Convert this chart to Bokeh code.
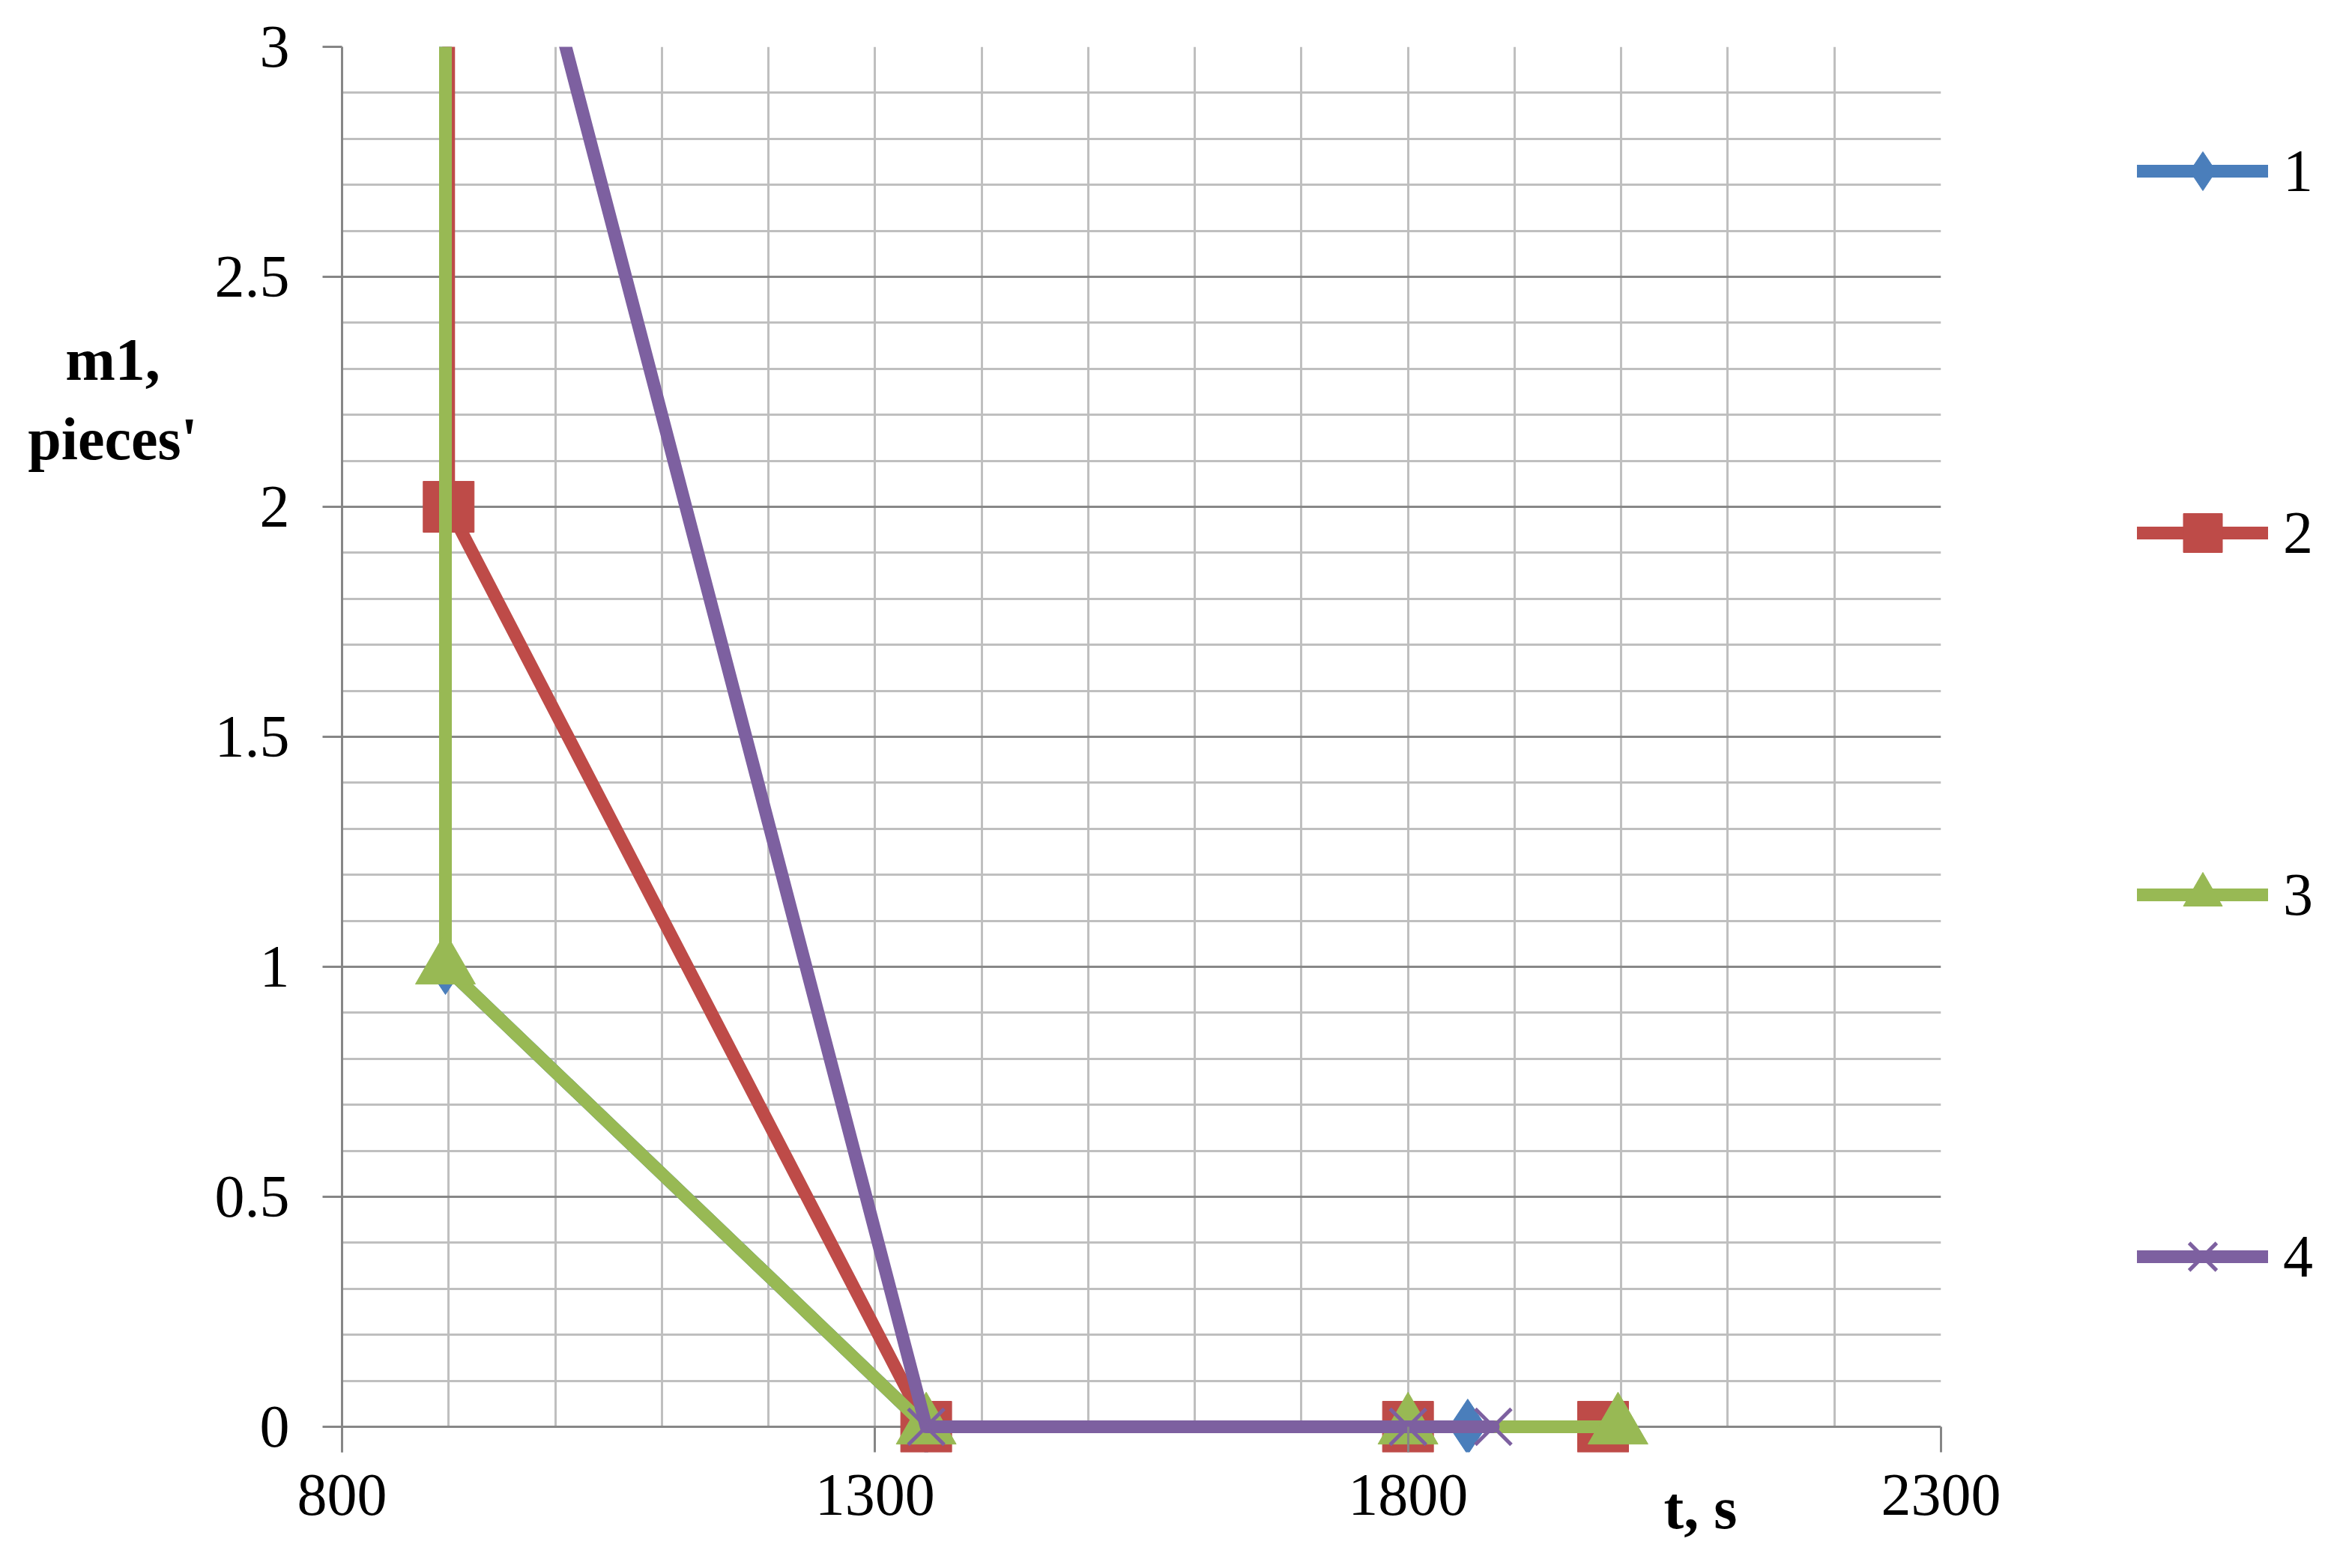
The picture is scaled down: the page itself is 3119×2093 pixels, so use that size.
from bokeh.plotting import figure
from bokeh.models import Range1d, FixedTicker, Label, Legend, LegendItem
from bokeh.embed import file_html
from bokeh.resources import INLINE

# ---- data ----
t_1 = [897, 897, 1348, 1856]
m_1 = [4, 1, 0, 0]
t_2 = [900, 900, 1348, 1800, 1983]
m_2 = [5, 2, 0, 0, 0]
t_3 = [897, 897, 1348, 1800, 1997]
m_3 = [5, 1, 0, 0, 0]
t_4 = [897, 1348, 1800, 1880]
m_4 = [4, 0, 0, 0]
series_names = ["1", "2", "3", "4"]

x_ticks = [800, 1300, 1800, 2300]
x_grid_ticks = [900, 1000, 1100, 1200, 1300, 1400, 1500, 1600, 1700, 1800,
                1900, 2000, 2100, 2200, 2300]
y_ticks = [0, 0.5, 1, 1.5, 2, 2.5, 3]
y_tick_labels = ["0", "0.5", "1", "1.5", "2", "2.5", "3"]
y_minor_ticks = [0.1, 0.2, 0.3, 0.4, 0.6, 0.7, 0.8, 0.9, 1.1, 1.2, 1.3, 1.4,
                 1.6, 1.7, 1.8, 1.9, 2.1, 2.2, 2.3, 2.4, 2.6, 2.7, 2.8, 2.9]
y_title = "m1,\npieces'"
x_title = "t, s"

colors = ["#4A7EBB", "#BE4B48", "#98B954", "#7D60A0"]
markers = ["diamond", "square", "triangle", "x"]
msizes = [74, 68, 80, 68]
FONT = "Liberation Serif"

p = figure(frame_width=2134, frame_height=1876,
           x_range=Range1d(800, 2300), y_range=Range1d(-0.0554, 3),
           output_backend="svg", toolbar_location=None,
           min_border_left=456, min_border_right=513,
           min_border_top=62, min_border_bottom=139)
p.outline_line_color = None
p.background_fill_color = "white"

# axes
p.xaxis.ticker = FixedTicker(ticks=x_ticks, minor_ticks=x_grid_ticks)
p.yaxis.ticker = FixedTicker(ticks=y_ticks, minor_ticks=y_minor_ticks)
p.yaxis.major_label_overrides = {v: s for v, s in zip(y_ticks, y_tick_labels)}
for ax in (p.xaxis[0], p.yaxis[0]):
    ax.axis_line_color = "#868686"
    ax.axis_line_width = 3
    ax.major_tick_line_color = "#868686"
    ax.major_tick_line_width = 3
    ax.minor_tick_line_color = None
    ax.major_label_text_font = FONT
    ax.major_label_text_font_size = "80px"
    ax.major_label_text_color = "black"
# the horizontal grid line at 0 plays the role of the x axis line (drawn under the data)
p.xaxis.axis_line_color = None
p.xaxis.major_tick_in = 34
p.xaxis.major_tick_out = 0
p.xaxis.major_label_standoff = 26
p.yaxis.major_tick_in = 0
p.yaxis.major_tick_out = 26
p.yaxis.major_label_standoff = 44

# grids
p.xgrid.grid_line_color = None
p.xgrid.minor_grid_line_color = "#BFBFBF"
p.xgrid.minor_grid_line_width = 3
p.xgrid.cross_bounds = (0, 3)
p.ygrid.grid_line_color = "#878787"
p.ygrid.grid_line_width = 3
p.ygrid.minor_grid_line_color = "#BFBFBF"
p.ygrid.minor_grid_line_width = 3

# series
items = []
for t, m, c, mk, ms, name in zip([t_1, t_2, t_3, t_4], [m_1, m_2, m_3, m_4],
                                  colors, markers, msizes, series_names):
    lr = p.line(t, m, line_color=c, line_width=17, line_cap="round", line_join="round")
    if mk == "x":
        sr = p.scatter(t, m, marker=mk, size=ms, line_color=c, line_width=5)
    else:
        sr = p.scatter(t, m, marker=mk, size=ms, fill_color=c, line_color=c, line_width=1)
    items.append(LegendItem(label=name, renderers=[lr, sr]))

legend = Legend(items=items, location=(262, 196), orientation="vertical",
                glyph_width=175, glyph_height=130, spacing=353, label_standoff=20,
                padding=0, margin=0, border_line_color=None, background_fill_alpha=0,
                label_text_font=FONT, label_text_font_size="80px",
                label_text_color="black")
p.add_layout(legend, "right")

# axis titles (placed in side panels so they are not clipped to the frame)
p.add_layout(Label(x=584.9, y=2.391, text=y_title, text_font=FONT, text_font_style="bold",
                   text_font_size="80px", text_color="black", text_align="center",
                   text_baseline="top"), "left")
p.add_layout(Label(x=2040.0, y=-0.176, text=x_title, text_font=FONT, text_font_style="bold",
                   text_font_size="80px", text_color="black", text_align="left",
                   text_baseline="alphabetic"), "below")

open("out.html", "w").write(file_html(p, INLINE))
